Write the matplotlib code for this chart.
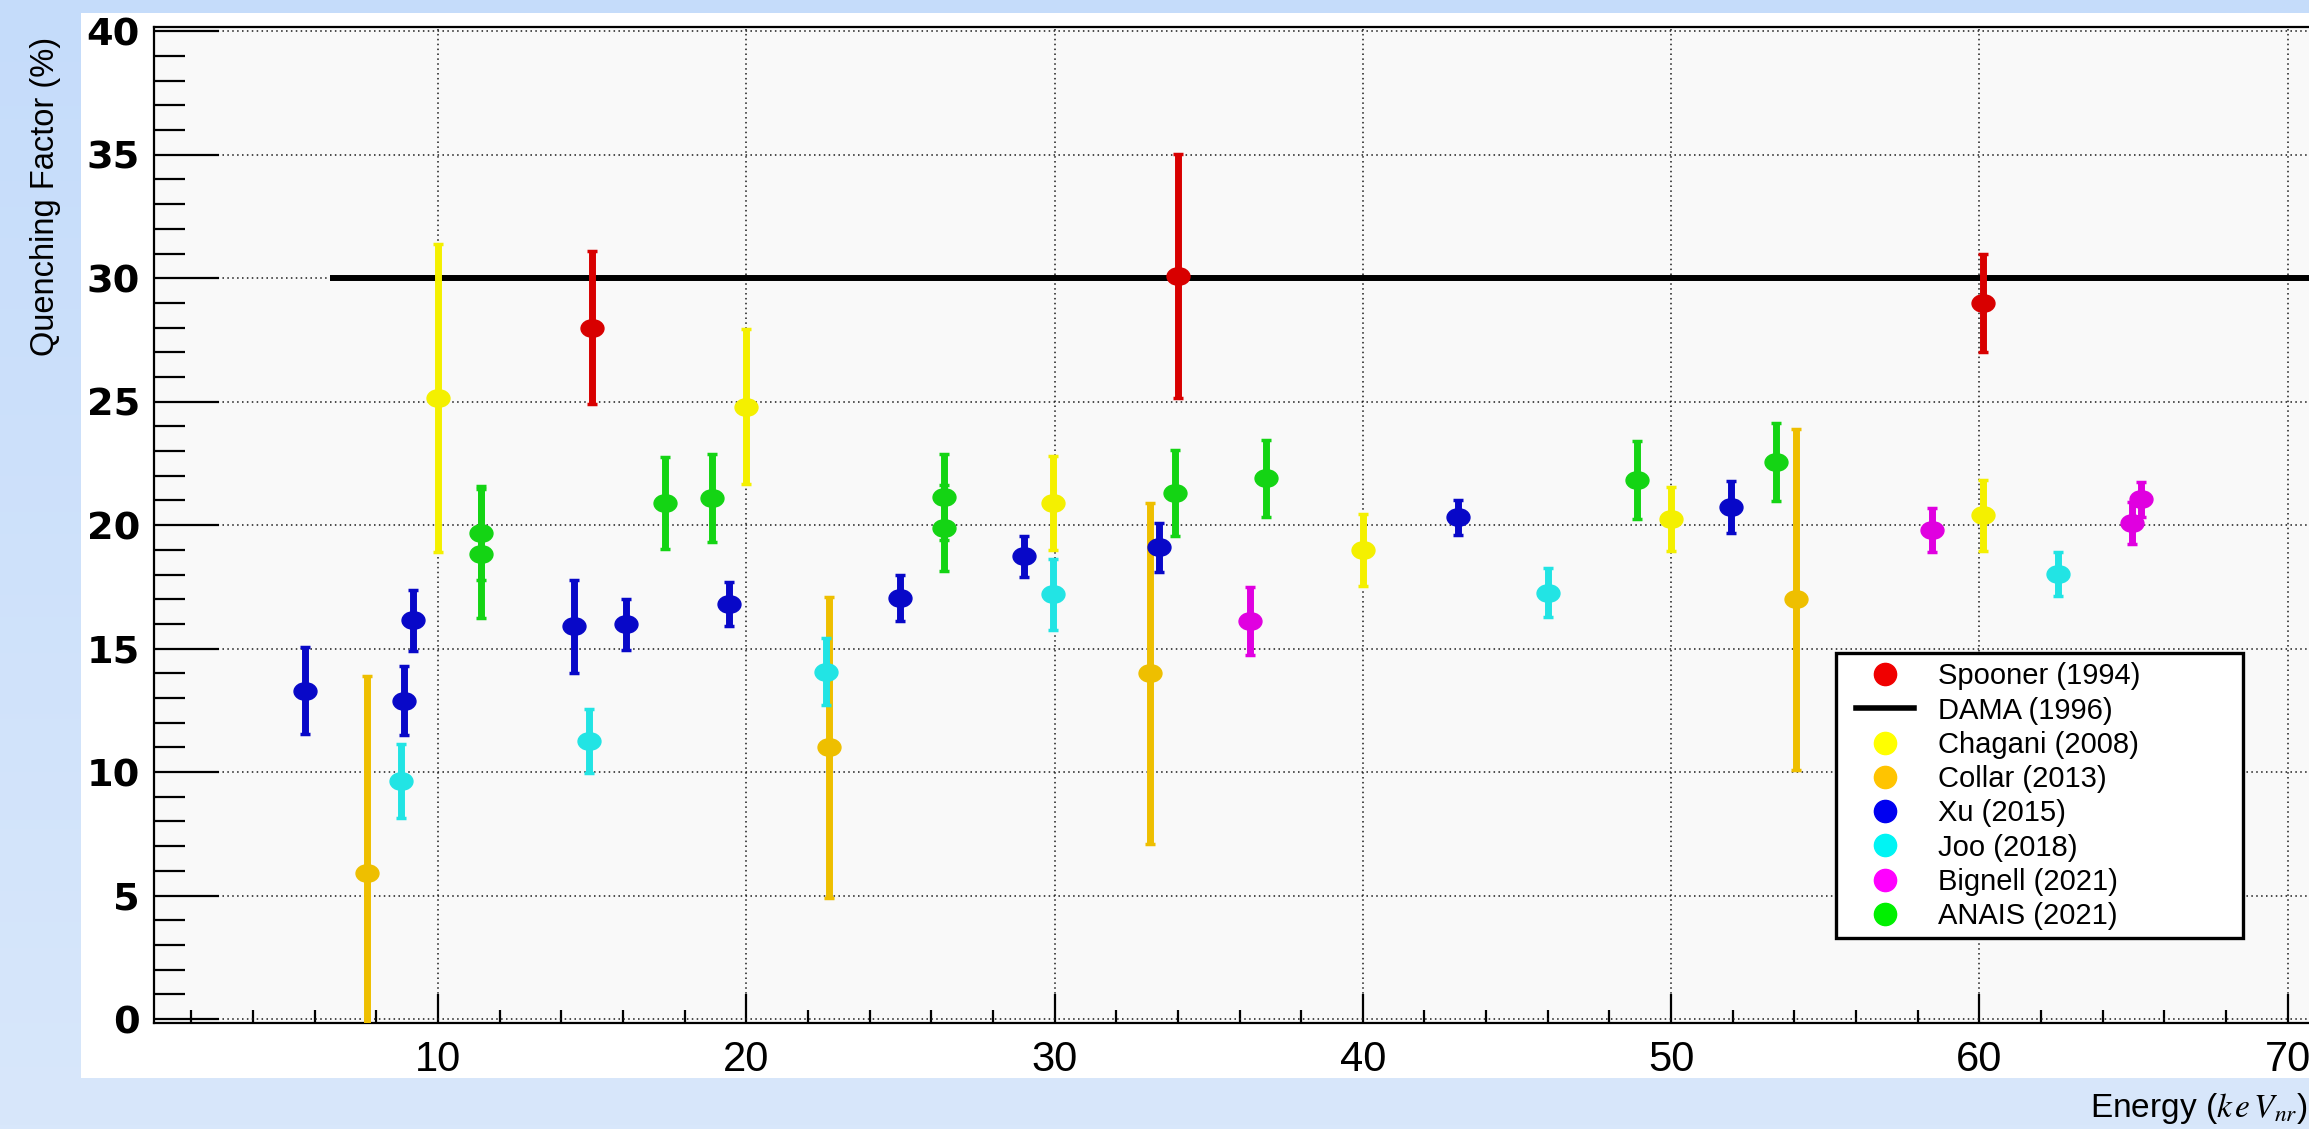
import numpy as np
import matplotlib
matplotlib.use('Agg')
import matplotlib.pyplot as plt
from matplotlib.lines import Line2D
from matplotlib.patches import Rectangle
from matplotlib.path import Path
from matplotlib.transforms import Affine2D
from matplotlib.ticker import MultipleLocator

plt.rcParams['font.family'] = 'Liberation Sans'
plt.rcParams['mathtext.fontset'] = 'stix'

# Quenching factor measurements of Na recoils in NaI(Tl): energy (keVnr), QF (%), error (%)
spooner_e = [15.0, 34.0, 60.1]
spooner_qf = [28.0, 30.1, 29.0]
spooner_err = [3.1, 4.95, 2.0]

# DAMA constant value
dama_e = [6.5, 75.0]
dama_qf = [30.0, 30.0]

chagani_e = [10.0, 20.0, 29.95, 40.0, 50.0, 60.1]
chagani_qf = [25.15, 24.8, 20.9, 19.0, 20.25, 20.4]
chagani_err = [6.25, 3.15, 1.9, 1.45, 1.3, 1.43]

collar_e = [7.7, 22.7, 33.1, 54.05]
collar_qf = [5.9, 11.0, 14.0, 17.0]
collar_err = [8.0, 6.1, 6.9, 6.9]

xu_e = [5.7, 8.9, 9.2, 14.4, 16.1, 19.45, 25.0, 29.0, 33.4, 43.1, 51.95]
xu_qf = [13.3, 12.9, 16.15, 15.9, 15.98, 16.8, 17.05, 18.75, 19.1, 20.32, 20.75]
xu_err = [1.75, 1.38, 1.23, 1.9, 1.02, 0.9, 0.93, 0.83, 1.0, 0.71, 1.05]

joo_e = [8.8, 14.9, 22.6, 29.95, 46.0, 62.55]
joo_qf = [9.65, 11.25, 14.07, 17.2, 17.27, 18.02]
joo_err = [1.5, 1.29, 1.37, 1.45, 1.0, 0.9]

bignell_e = [36.35, 58.45, 64.95, 65.25]
bignell_qf = [16.12, 19.81, 20.1, 21.05]
bignell_err = [1.39, 0.88, 0.85, 0.7]

anais_e = [11.4, 11.4, 17.35, 18.9, 26.4, 26.4, 33.9, 36.85, 48.9, 53.4]
anais_qf = [19.7, 18.85, 20.9, 21.1, 21.15, 19.9, 21.3, 21.9, 21.83, 22.55]
anais_err = [1.9, 2.6, 1.88, 1.8, 1.73, 1.74, 1.73, 1.57, 1.58, 1.58]

xticks = [10, 20, 30, 40, 50, 60, 70]
yticks = [0, 5, 10, 15, 20, 25, 30, 35, 40]

# label, colour of points, colour in legend, data
series = [
    ('Spooner (1994)', '#d80000', '#f00000', spooner_e, spooner_qf, spooner_err),
    ('Chagani (2008)', '#f4f000', '#ffff00', chagani_e, chagani_qf, chagani_err),
    ('Collar (2013)', '#eebf00', '#ffc400', collar_e, collar_qf, collar_err),
    ('Xu (2015)', '#0808c8', '#0000f0', xu_e, xu_qf, xu_err),
    ('Joo (2018)', '#22e4e4', '#00f4f4', joo_e, joo_qf, joo_err),
    ('Bignell (2021)', '#e000e0', '#ff00ff', bignell_e, bignell_qf, bignell_err),
    ('ANAIS (2021)', '#14d414', '#00f000', anais_e, anais_qf, anais_err),
]

fig = plt.figure(figsize=(23.09, 11.29), dpi=100)

# slide background with a soft blue gradient and the white plot panel
bg = fig.add_axes([0, 0, 1, 1], zorder=-5)
top = np.array([197, 220, 250]) / 255
bottom = np.array([216, 231, 251]) / 255
grad = np.linspace(0, 1, 256)[:, None, None] * (bottom - top) + top
bg.imshow(np.repeat(grad, 4, axis=1), aspect='auto', extent=(0, 1, 0, 1))
bg.add_patch(Rectangle((0.0351, 0.0452), 0.9649, 0.9433, color='white', lw=0))
bg.set_xlim(0, 1)
bg.set_ylim(0, 1)
bg.axis('off')

ax = fig.add_axes([0.0667, 0.0939, 0.9333, 0.8825])
ax.set_facecolor('#f9f9f9')
ax.set_xlim(0.79, 70.69)
ax.set_ylim(-0.16, 40.19)

ax.set_xticks(xticks)
ax.set_yticks(yticks)
ax.xaxis.set_minor_locator(MultipleLocator(2))
ax.yaxis.set_minor_locator(MultipleLocator(1))
ax.tick_params(axis='both', which='both', direction='in', width=1.6, color='black')
ax.tick_params(axis='y', which='major', length=47, pad=10, labelsize=27.5,
               labelfontfamily='DejaVu Sans')
ax.tick_params(axis='y', which='minor', length=22)
ax.tick_params(axis='x', which='major', length=21, pad=12, labelsize=30)
ax.tick_params(axis='x', which='minor', length=9.5)
for lab in ax.get_yticklabels():
    lab.set_fontweight('bold')
for side in ['left', 'bottom', 'top']:
    ax.spines[side].set_linewidth(1.6)
ax.spines['right'].set_visible(False)

ax.set_axisbelow(True)
ax.grid(True, which='major', color='#1a1a1a', lw=1.1, ls=(0, (1, 2.2)))

ax.plot(dama_e, dama_qf, color='black', lw=4.3, zorder=2, solid_capstyle='butt')

# slightly oval markers as in the ROOT canvas
oval = Path.unit_circle().transformed(Affine2D().scale(1.3, 1.0))
for label, col, lcol, e, qf, err in series:
    ax.errorbar(e, qf, yerr=err, marker=oval, ls='none', color=col, mec=col,
                ms=16.5, elinewidth=5, capsize=3.5, capthick=2.5, zorder=3)

# legend box
ax.add_patch(Rectangle((0.7805, 0.0853), 0.1889, 0.2861, transform=ax.transAxes,
                       facecolor='white', edgecolor='black', lw=2.4, zorder=6))
handles = []
labels = []
for i, (label, col, lcol, e, qf, err) in enumerate(series):
    handles.append(Line2D([], [], marker='o', ls='none', color=lcol, ms=16))
    labels.append(label)
    if i == 0:
        handles.append(Line2D([], [], color='black', lw=4))
        labels.append('DAMA (1996)')
leg = ax.legend(handles, labels, loc='upper left', bbox_to_anchor=(0.7898, 0.3620),
                frameon=False, fontsize=21, borderpad=0, borderaxespad=0,
                labelspacing=0.215, handlelength=2.0, handletextpad=0.8)
leg.set_zorder(7)

fig.text(0.0197, 0.826, 'Quenching Factor (%)', rotation=90, ha='center', va='center',
         fontsize=23.5)
fig.text(0.9995, 0.011, r'Energy ($k\,e\,V_{nr}$)', ha='right', va='baseline', fontsize=24)

fig.savefig('out.png', dpi=100)
